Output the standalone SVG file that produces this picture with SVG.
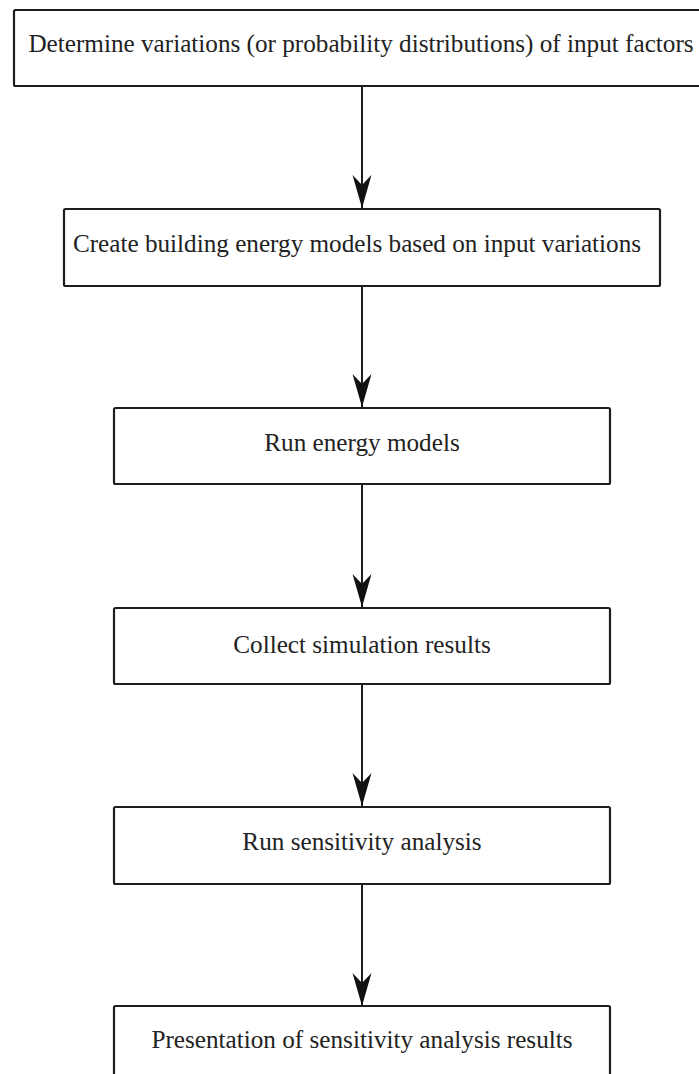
<svg xmlns="http://www.w3.org/2000/svg" width="699" height="1074" viewBox="0 0 699 1074">
<style>
.box{fill:#fff;stroke:#1e1e1e;stroke-width:2.2}
.lbl{font-family:"Liberation Serif","Times New Roman",serif;font-size:25.2px;fill:#222;text-anchor:middle}
.conn{stroke:#1e1e1e;stroke-width:2;fill:none}
</style>
<defs>
<marker id="ah" markerUnits="userSpaceOnUse" viewBox="-34 -11 35 22" refX="0" refY="0" markerWidth="35" markerHeight="22" orient="auto">
<path d="M0,0 L-33,-9.5 L-23,0 L-33,9.5 Z" fill="#111"/>
</marker>
</defs>
<rect width="699" height="1074" fill="#fff"/>
<g id="connectors">
<line class="conn" x1="362" y1="87" x2="362" y2="208" marker-end="url(#ah)"/>
<line class="conn" x1="362" y1="286" x2="362" y2="407" marker-end="url(#ah)"/>
<line class="conn" x1="362" y1="485" x2="362" y2="607" marker-end="url(#ah)"/>
<line class="conn" x1="362" y1="685" x2="362" y2="806" marker-end="url(#ah)"/>
<line class="conn" x1="362" y1="884" x2="362" y2="1006" marker-end="url(#ah)"/>
</g>
<g id="n1">
<rect class="box" x="14" y="10" width="696" height="76" rx="1.5"/>
<text class="lbl" x="361" y="52">Determine variations (or probability distributions) of input factors</text>
</g>
<g id="n2">
<rect class="box" x="64" y="209" width="596" height="77" rx="1.5"/>
<text class="lbl" x="357" y="252">Create building energy models based on input variations</text>
</g>
<g id="n3">
<rect class="box" x="114" y="408" width="496" height="76" rx="1.5"/>
<text class="lbl" x="362" y="451">Run energy models</text>
</g>
<g id="n4">
<rect class="box" x="114" y="608" width="496" height="76" rx="1.5"/>
<text class="lbl" x="362" y="653">Collect simulation results</text>
</g>
<g id="n5">
<rect class="box" x="114" y="807" width="496" height="77" rx="1.5"/>
<text class="lbl" x="362" y="850">Run sensitivity analysis</text>
</g>
<g id="n6">
<rect class="box" x="114" y="1006" width="496" height="77" rx="1.5"/>
<text class="lbl" x="362" y="1048">Presentation of sensitivity analysis results</text>
</g>
</svg>
